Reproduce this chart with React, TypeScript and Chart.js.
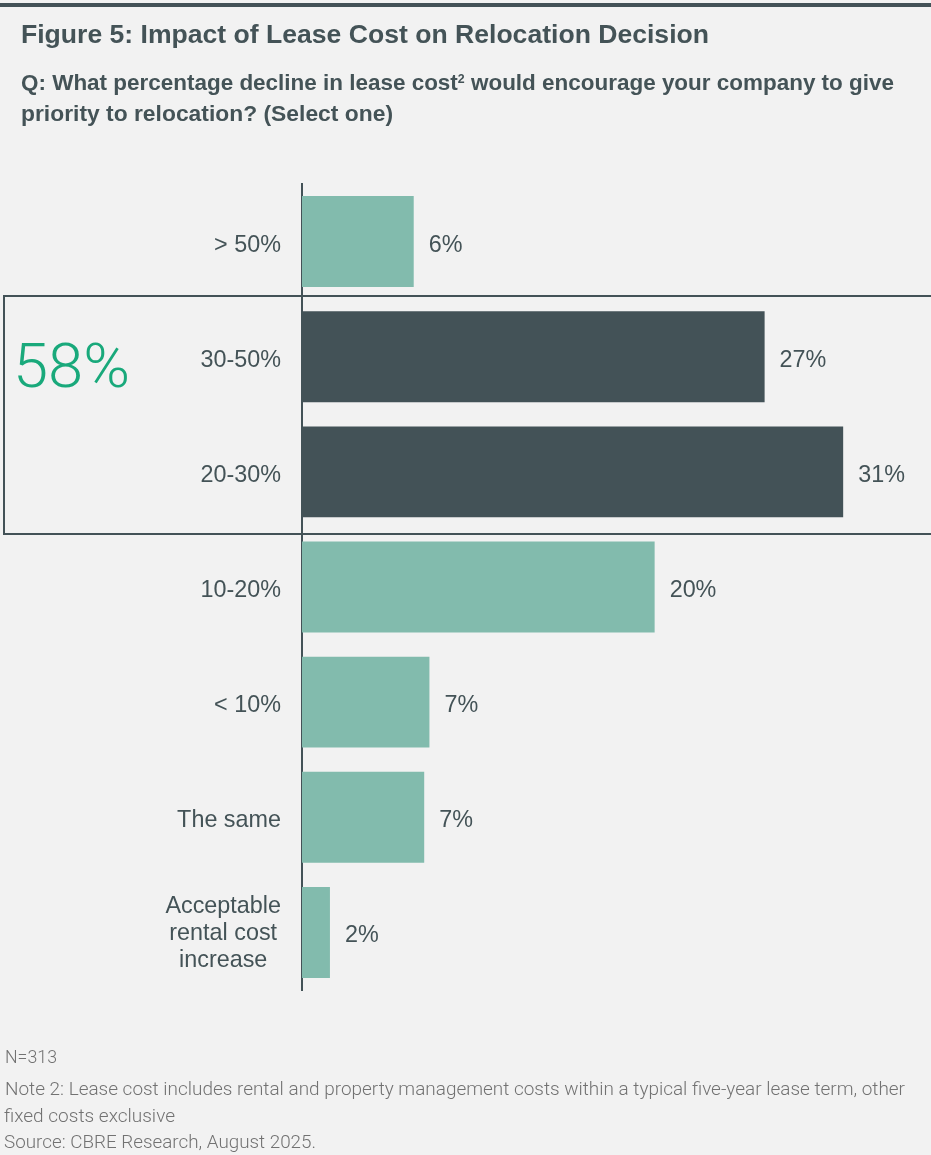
import React, { useEffect, useLayoutEffect, useRef } from "react";
import { Chart, registerables } from "chart.js";

Chart.register(...registerables);

// ---- Data ----
const categories: (string | string[])[] = [
  "> 50%",
  "30-50%",
  "20-30%",
  "10-20%",
  "< 10%",
  "The same",
  ["Acceptable", "rental cost", "increase"],
];
const values = [6.4, 26.5, 31, 20.2, 7.3, 7.0, 1.6];
const valueLabels = ["6%", "27%", "31%", "20%", "7%", "7%", "2%"];
const highlighted = [false, true, true, false, false, false, false];
const highlightTotal = "58%";
const xMax = 35;

const titleText = "Figure 5: Impact of Lease Cost on Relocation Decision";
const subtitleLine1a = "Q: What percentage decline in lease cost";
const subtitleSup = "2";
const subtitleLine1b = " would encourage your company to give";
const subtitleLine2 = "priority to relocation? (Select one)";
const footnotes = [
  "N=313",
  "Note 2: Lease cost includes rental and property management costs within a typical five-year lease term, other",
  "fixed costs exclusive",
  "Source: CBRE Research, August 2025.",
];

// ---- Styles ----
const TEXT = "#445357";
const DARK = "#435257";
const LIGHT = "#82bbad";
const GREEN = "#19a97b";
const BG = "#f2f2f2";
const NOTE = "#727272";
const FONT = '"Liberation Sans", Arial, sans-serif';

function Fit(props: { target: number; style?: React.CSSProperties; children: React.ReactNode }) {
  const ref = useRef<HTMLSpanElement>(null);
  useLayoutEffect(() => {
    const el = ref.current;
    if (!el) return;
    el.style.transform = "none";
    const w = el.getBoundingClientRect().width;
    if (w > 0) el.style.transform = `scaleX(${props.target / w})`;
  }, [props.target]);
  return (
    <span
      ref={ref}
      style={{ display: "inline-block", whiteSpace: "nowrap", transformOrigin: "left center", ...props.style }}
    >
      {props.children}
    </span>
  );
}

const LABEL_SX = 0.95;

function drawScaled(ctx: any, text: string, x: number, y: number, align: "left" | "center") {
  ctx.save();
  ctx.translate(x, y);
  ctx.scale(LABEL_SX, 1);
  ctx.textAlign = align;
  ctx.fillText(text, 0, 0);
  ctx.restore();
}

const labelPlugin = {
  id: "barLabels",
  afterDatasetsDraw(chart: any) {
    const { ctx } = chart;
    const xs = chart.scales.x;
    const ys = chart.scales.y;
    ctx.save();
    ctx.font = `24.6px ${FONT}`;
    ctx.fillStyle = TEXT;
    ctx.textBaseline = "alphabetic";
    const labelRight = ys.right - 21;
    const lh = 27;
    categories.forEach((cat, i) => {
      const y = ys.getPixelForValue(i);
      const lines = Array.isArray(cat) ? cat : [cat];
      const maxW = Math.max(...lines.map((l) => ctx.measureText(l).width)) * LABEL_SX;
      const cx = labelRight - maxW / 2;
      const base = lines.length > 1 ? 7.5 : 10;
      lines.forEach((l, j) => drawScaled(ctx, l, cx, y + base + (j - (lines.length - 1) / 2) * lh, "center"));
      drawScaled(ctx, valueLabels[i], xs.getPixelForValue(values[i]) + 15, y + 10, "left");
    });
    ctx.restore();
  },
};

export default function App() {
  const canvasRef = useRef<HTMLCanvasElement>(null);

  useEffect(() => {
    if (!canvasRef.current) return;
    const chart = new Chart(canvasRef.current, {
      type: "bar",
      data: {
        labels: categories as any,
        datasets: [
          {
            data: values,
            backgroundColor: highlighted.map((h) => (h ? DARK : LIGHT)),
            barPercentage: 0.79,
            categoryPercentage: 1,
            borderWidth: 0,
          },
        ],
      },
      options: {
        indexAxis: "y",
        responsive: false,
        animation: false,
        devicePixelRatio: 1,
        layout: { padding: { top: 184, bottom: 165, left: 0, right: 18 } },
        plugins: { legend: { display: false }, tooltip: { enabled: false }, title: { display: false } },
        scales: {
          x: { display: false, min: 0, max: xMax },
          y: {
            position: "left",
            grid: { display: false, drawTicks: false },
            border: { display: true, color: DARK, width: 2 },
            ticks: { display: false },
            afterFit: (s: any) => {
              s.width = 302;
            },
          },
        },
      },
      plugins: [labelPlugin],
    });
    return () => chart.destroy();
  }, []);

  return (
    <div
      style={{
        position: "absolute",
        left: 0,
        top: 0,
        width: 931,
        height: 1155,
        background: BG,
        overflow: "hidden",
        fontFamily: FONT,
      }}
    >
      <div style={{ position: "absolute", left: 0, top: 3, width: 931, height: 4, background: DARK }} />
      <canvas
        ref={canvasRef}
        width={931}
        height={1155}
        style={{ position: "absolute", left: 0, top: 0, width: 931, height: 1155, display: "block" }}
      />
      <div
        style={{
          position: "absolute",
          left: 3,
          top: 295,
          width: 950,
          height: 240,
          border: `2px solid ${DARK}`,
          boxSizing: "border-box",
        }}
      />
      <div
        style={{
          position: "absolute",
          left: 13,
          top: 335.5,
          fontFamily: "Roboto, sans-serif",
          fontWeight: 300,
          fontSize: 61,
          lineHeight: "61px",
          color: GREEN,
          whiteSpace: "nowrap",
        }}
      >
        <Fit target={117}>{highlightTotal}</Fit>
      </div>
      <div
        style={{
          position: "absolute",
          left: 21,
          top: 18,
          fontWeight: 700,
          fontSize: 26.5,
          lineHeight: "32px",
          color: TEXT,
        }}
      >
        <Fit target={688}>{titleText}</Fit>
      </div>
      <div
        style={{
          position: "absolute",
          left: 21,
          top: 66.6,
          fontWeight: 700,
          fontSize: 22.7,
          lineHeight: "31px",
          color: TEXT,
        }}
      >
        <Fit target={873}>
          {subtitleLine1a}
          <span style={{ fontSize: "12.5px", verticalAlign: "7.5px", lineHeight: 0 }}>{subtitleSup}</span>
          {subtitleLine1b}
        </Fit>
        <br />
        <Fit target={372}>{subtitleLine2}</Fit>
      </div>
      {footnotes.map((t, i) => {
        const tops = [1044.9, 1076.9, 1103.9, 1129.9];
        const lefts = [5, 5, 4, 4];
        const targets = [52, 900, 171, 312];
        return (
          <div
            key={i}
            style={{
              position: "absolute",
              left: lefts[i],
              top: tops[i],
              fontFamily: "Roboto, sans-serif",
              fontWeight: 300,
              fontSize: 18,
              lineHeight: "24px",
              color: NOTE,
            }}
          >
            <Fit target={targets[i]}>{t}</Fit>
          </div>
        );
      })}
    </div>
  );
}
